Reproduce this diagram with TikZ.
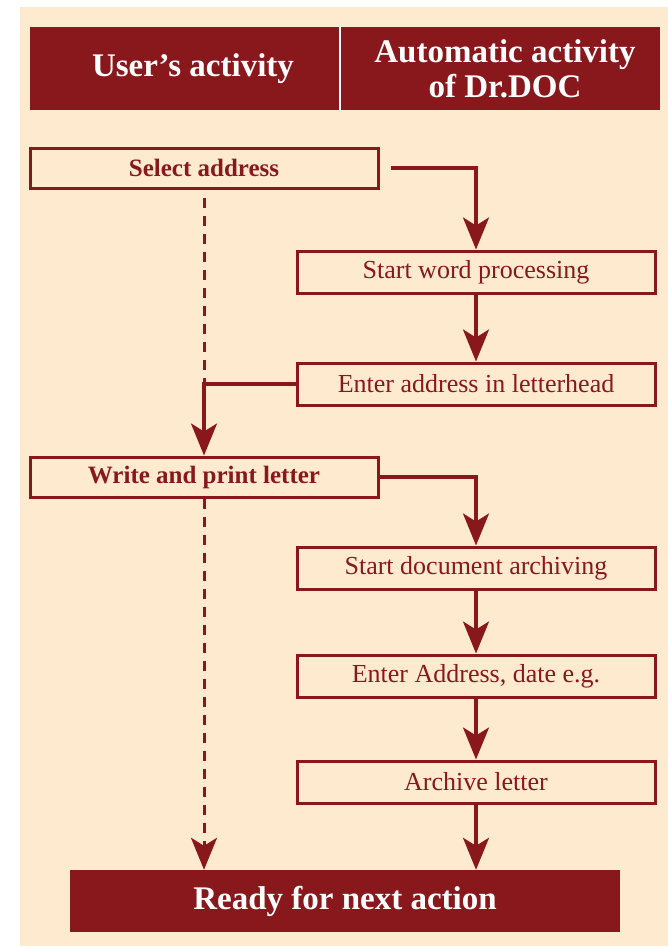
\documentclass[tikz,border=0pt]{standalone}
\usepackage{fontspec}
\setmainfont{Liberation Serif}
\usetikzlibrary{arrows.meta}
\definecolor{docred}{RGB}{137,24,28}
\definecolor{doccream}{RGB}{254,234,206}
\tikzset{userbox/.style={draw=docred, line width=3pt, minimum width=348pt, minimum height=40pt, text=docred, font=\fontsize{25}{28}\selectfont\bfseries},
  autobox/.style={draw=docred, line width=3pt, minimum width=358pt, minimum height=42pt, text=docred, font=\fontsize{26}{28}\selectfont},
  headtext/.style={text=white, align=center, inner sep=0pt, font=\fontsize{33}{35}\selectfont\bfseries},
  flow/.style={draw=docred, line width=3.2pt, -{Stealth[length=32pt,width=26pt,inset=8pt]}},
  skip/.style={flow, line width=3pt, dash pattern=on 10pt off 8pt}}

\begin{document}
\begin{tikzpicture}[x=1pt,y=-1pt]
  \useasboundingbox (0,0) rectangle (668,948);
  \fill[doccream] (20,7) rectangle (668,946);

  \fill[docred] (30,27) rectangle (660,110);
  \draw[white, line width=2.5pt] (340,27) -- (340,110);
  \node[headtext] (user) at (193,68.5) {User’s activity};
  \node[headtext] (auto) at (505,68.5) {Automatic activity\\of Dr.DOC};

  \node[userbox] (select) at (204,168) {Select address};
  \node[userbox] (write) at (204,477) {Write and print letter};

  \foreach \nm/\y/\txt in {wp/272/Start word processing, ea/384/Enter address in letterhead,
      da/568/Start document archiving, ed/676/{Enter Address, date e.g.}, al/782/Archive letter}
    \node[autobox] (\nm) at (476,\y) {\txt};

  \node[headtext, fill=docred, minimum width=550pt, minimum height=62pt] (ready) at (345,901) {Ready for next action};

  \coordinate (join) at (write.north |- ea.west);

  \draw[flow] ([xshift=11pt]select.east) -| (wp.north);
  \draw[flow] (wp) -- (ea);
  \draw[flow] (ea.west) -| (write.north);
  \draw[flow] (write.east) -| (da.north);
  \draw[flow] (da) -- (ed);
  \draw[flow] (ed) -- (al);
  \draw[flow] (al.south) -- (al.south |- ready.north);

  \draw[docred, line width=3pt, dash pattern=on 10pt off 8pt] ([yshift=-8pt]select.south) -- (join);
  \draw[skip] (write.south) -- (write.south |- ready.north);
\end{tikzpicture}
\end{document}
